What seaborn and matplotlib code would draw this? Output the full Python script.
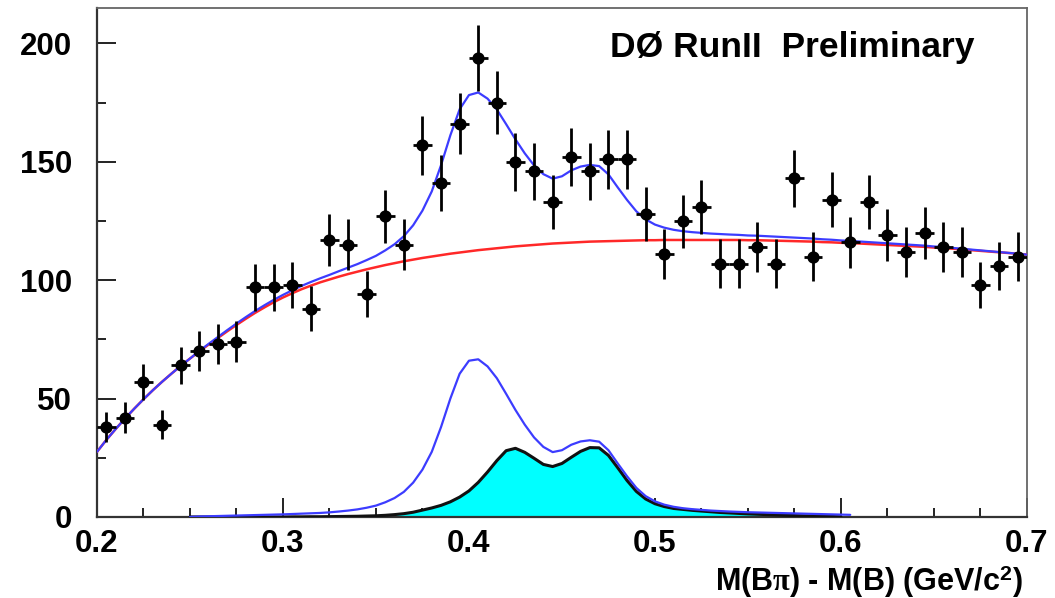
import numpy as np
import pandas as pd
import matplotlib
matplotlib.use("Agg")
import matplotlib.pyplot as plt
from matplotlib.ticker import MultipleLocator
import seaborn as sns

# ---- histogram: bin centres of M(B pi) - M(B) [GeV/c^2], entries per 10 MeV ----
bin_centers = np.round(np.linspace(0.205, 0.695, 50), 3)
entries = [38, 42, 57, 39, 64, 70, 73, 74, 97, 97,
           98, 88, 117, 115, 94, 127, 115, 157, 141, 166,
           194, 175, 150, 146, 133, 152, 146, 151, 151, 128,
           111, 125, 131, 107, 107, 114, 107, 143, 110, 134,
           116, 133, 119, 112, 120, 114, 112, 98, 106, 110]
bin_half_width = 0.005

# ---- fit components sampled every 5 MeV from 0.200 to 0.700 ----
curve_mass = np.round(np.linspace(0.200, 0.700, 101), 3)

background = [
    27.5, 32.5, 37.1, 41.5, 45.7, 49.7, 53.5, 57.1, 60.5, 63.8,
    66.9, 69.9, 72.8, 75.6, 78.4, 81.1, 83.7, 86.2, 88.5, 90.7,
    92.7, 94.5, 96.2, 97.7, 99.1, 100.3, 101.5, 102.6, 103.6, 104.6,
    105.5, 106.4, 107.2, 108.0, 108.7, 109.4, 110.0, 110.6, 111.2, 111.7,
    112.2, 112.7, 113.1, 113.5, 113.9, 114.3, 114.6, 114.9, 115.2, 115.5,
    115.7, 115.9, 116.1, 116.3, 116.4, 116.5, 116.6, 116.7, 116.8, 116.9,
    116.9, 117.0, 117.0, 117.0, 117.0, 117.0, 117.0, 117.0, 117.0, 117.0,
    116.9, 116.9, 116.8, 116.7, 116.6, 116.5, 116.4, 116.3, 116.1, 116.0,
    115.8, 115.7, 115.5, 115.3, 115.1, 114.9, 114.7, 114.5, 114.3, 114.1,
    113.8, 113.6, 113.3, 113.0, 112.7, 112.4, 112.1, 111.8, 111.5, 111.2,
    110.8]

signal_total = [
    0, 0, 0, 0, 0, 0, 0, 0, 0, 0,
    0.0, 0.2, 0.3, 0.4, 0.5, 0.6, 0.7, 0.8, 0.9, 1.0,
    1.1, 1.25, 1.4, 1.55, 1.7, 1.95, 2.3, 2.7, 3.2, 3.9,
    4.8, 6.2, 8.0, 10.6, 14.5, 20.0, 27.5, 38.0, 50.0, 60.5,
    66.0, 66.6, 63.6, 58.6, 52.0, 45.2, 39.0, 33.6, 29.6, 27.4,
    28.2, 30.5, 31.9, 32.4, 31.8, 28.2, 22.6, 17.2, 12.3, 8.8,
    6.6, 5.2, 4.3, 3.7, 3.3, 3.0, 2.7, 2.5, 2.3, 2.15,
    2.0, 1.9, 1.8, 1.7, 1.6, 1.5, 1.4, 1.3, 1.2, 1.1,
    1.0, 0.9, 0.85, 0.8, 0.75, 0.7, 0.65, 0.6, 0.55, 0.5,
    0.45, 0.4, 0.35, 0.3, 0.25, 0.2, 0.15, 0.1, 0.05, 0.0,
    0.0]

signal_bstar = [
    0, 0, 0, 0, 0, 0, 0, 0, 0, 0,
    0, 0, 0, 0, 0, 0, 0, 0, 0, 0,
    0.0, 0.05, 0.05, 0.1, 0.1, 0.15, 0.2, 0.25, 0.3, 0.4,
    0.5, 0.7, 1.0, 1.4, 2.0, 2.9, 3.8, 4.9, 6.4, 8.4,
    11.0, 14.6, 19.0, 23.8, 28.0, 29.0, 27.3, 24.8, 22.2, 21.3,
    22.6, 25.2, 27.7, 29.3, 29.2, 26.0, 20.8, 15.4, 10.8, 7.6,
    5.6, 4.4, 3.6, 3.2, 2.8, 2.5, 2.2, 1.9, 1.7, 1.5,
    1.3, 1.15, 1.0, 0.85, 0.7, 0.6, 0.5, 0.4, 0.3, 0.2,
    0.1, 0, 0, 0, 0, 0, 0, 0, 0, 0,
    0, 0, 0, 0, 0, 0, 0, 0, 0, 0,
    0]

curves = pd.DataFrame({
    "mass": curve_mass,
    "background": background,
    "signal": signal_total,
    "bstar": signal_bstar,
})
curves["total"] = curves["background"] + curves["signal"]
signal_part = curves[(curves["mass"] >= 0.25) & (curves["mass"] <= 0.605)]

hist = pd.DataFrame({"mass": bin_centers, "entries": entries})
hist["err"] = np.sqrt(hist["entries"])

# ---- style ----
sns.set_theme(style="ticks")
plt.rcParams["font.family"] = ["Liberation Sans", "DejaVu Sans"]
plt.rcParams["font.weight"] = "bold"
plt.rcParams["mathtext.fontset"] = "custom"
plt.rcParams["mathtext.rm"] = "Liberation Sans:bold"
plt.rcParams["mathtext.bf"] = "Liberation Sans:bold"
plt.rcParams["mathtext.it"] = "Liberation Serif"

fig = plt.figure(figsize=(10.55, 5.98), dpi=100)
fig.patch.set_facecolor("white")
ax = fig.add_axes([0.0919, 0.1355, 0.8815, 0.8512])
ax.set_facecolor("white")

BLUE = "#3c3cff"
RED = "#ff2828"

# B1 / B2* component (filled)
ax.fill_between(curves["mass"], curves["bstar"], 0, color="#00ffff", lw=0, zorder=1)
sns.lineplot(data=curves[(curves["mass"] >= 0.25) & (curves["mass"] <= 0.60)],
             x="mass", y="bstar", ax=ax, color="#111111", lw=2.2,
             errorbar=None, zorder=3)
# full signal
sns.lineplot(data=signal_part, x="mass", y="signal", ax=ax, color=BLUE, lw=1.6,
             errorbar=None, zorder=3)
# background and total fit
sns.lineplot(data=curves, x="mass", y="background", ax=ax, color=RED, lw=1.8,
             errorbar=None, zorder=3)
sns.lineplot(data=curves, x="mass", y="total", ax=ax, color=BLUE, lw=1.6,
             errorbar=None, zorder=4)

# data points with errors
ax.errorbar(hist["mass"], hist["entries"], yerr=hist["err"], xerr=bin_half_width,
            fmt="none", ecolor="black", elinewidth=2.0, capsize=0, zorder=5)
sns.scatterplot(data=hist, x="mass", y="entries", ax=ax, color="black",
                edgecolor="black", s=78, linewidth=0, zorder=6)

# ---- axes ----
ax.set_xlim(0.2, 0.7)
ax.set_ylim(0, 215)
ax.xaxis.set_major_locator(MultipleLocator(0.1))
ax.xaxis.set_minor_locator(MultipleLocator(0.025))
ax.yaxis.set_major_locator(MultipleLocator(50))
ax.yaxis.set_minor_locator(MultipleLocator(25))
ax.tick_params(which="both", direction="in", top=False, right=False,
               color="#222222", width=1.4, labelsize=22.5, labelcolor="black")
ax.tick_params(which="major", length=13.5)
ax.tick_params(which="minor", length=6.8)
ax.tick_params(axis="x", which="major", pad=9)
ax.tick_params(axis="y", which="major", pad=18)
for lab in ax.get_xticklabels() + ax.get_yticklabels():
    lab.set_fontweight("bold")
ax.set_xlabel("")
ax.set_ylabel("")

for side in ["left", "bottom"]:
    ax.spines[side].set_color("#333333")
    ax.spines[side].set_linewidth(1.6)
for side in ["top", "right"]:
    ax.spines[side].set_color("#666666")
    ax.spines[side].set_linewidth(1.3)
    ax.spines[side].set_visible(True)

fig.text(0.924, 0.9047, "D\u00d8 RunII  Preliminary", ha="right", va="baseline",
         fontsize=25.5, fontweight="bold", color="black")
fig.text(0.9697, 0.012, r"M(B$\pi$) - M(B) (GeV/c$^{2}$)", ha="right",
         va="baseline", fontsize=22, fontweight="bold", color="black")

fig.savefig("out.png", dpi=100, facecolor="white")
